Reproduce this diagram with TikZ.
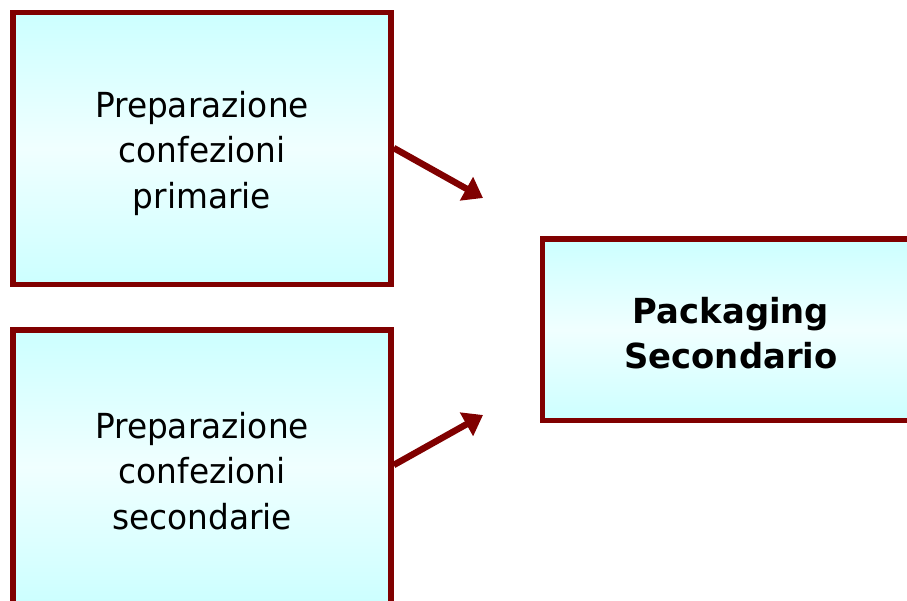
\documentclass[tikz,border=0pt]{standalone}
\usepackage{fontspec}
\setmainfont{DejaVu Sans}[FakeStretch=0.95, BoldFeatures={FakeStretch=0.98}]
\usetikzlibrary{arrows.meta}
\definecolor{boxred}{RGB}{128,0,0}
\definecolor{boxcyan}{RGB}{204,255,255}
\definecolor{boxlight}{RGB}{240,255,255}
\tikzset{
  procbox/.style={rectangle, draw=boxred, line width=5.5pt,
    top color=boxcyan, bottom color=boxcyan, middle color=boxlight},
  boxtext/.style={align=center, font=\fontsize{34.5}{45.5}\selectfont, inner sep=0pt},
  flowarrow/.style={draw=boxred, line width=6.5pt,
    -{Triangle[length=19pt,width=26pt]}}
}
\begin{document}
\begin{tikzpicture}[x=1pt,y=-1pt]
\useasboundingbox (0,0) rectangle (907,600);
\clip (0,0) rectangle (907,600);
\node[procbox, minimum width=378pt, minimum height=272pt] (b1) at (202,148.5) {};
\node[procbox, minimum width=378pt, minimum height=274pt] (b2) at (202,467) {};
\node[procbox, minimum width=377pt, minimum height=181.5pt] (b3) at (731,329.75) {};
\node[boxtext] (b1t) at (202,153) {Preparazione\\confezioni\\primarie};
\node[boxtext] (b2t) at (202,471) {Preparazione\\confezioni\\secondarie};
\node[boxtext, font=\fontsize{34.5}{45.5}\selectfont\bfseries] (b3t) at (731,333) {Packaging\\Secondario};
\coordinate (t1) at (483,198);
\coordinate (t2) at (483,415);
\draw[flowarrow] (b1.east |- 0,148) -- (t1);
\draw[flowarrow] (b2.east |- 0,465) -- (t2);
\end{tikzpicture}
\end{document}
